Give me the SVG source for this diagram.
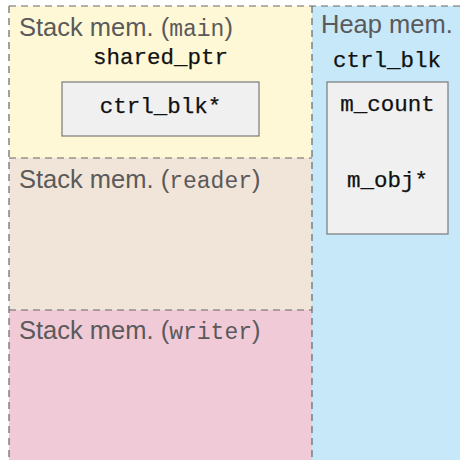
<svg xmlns="http://www.w3.org/2000/svg" width="460" height="460" viewBox="0 0 460 460">
<style>
.lbl{font-family:"Liberation Sans","Open Sans",sans-serif;font-size:25.5px;fill:#5a5a5a}
.lbl .tt{font-family:"Liberation Mono","DejaVu Sans Mono",monospace;font-size:23px}
.code{font-family:"Liberation Mono","DejaVu Sans Mono",monospace;font-size:22.5px;fill:#111;stroke:#111;stroke-width:0.25;text-anchor:middle}
.box{fill:#f0f0f0;stroke:#7a7a7a;stroke-width:1.2}
.dash{stroke:#666;stroke-width:1.2;stroke-dasharray:7 5;fill:none}
</style>
<g id="region-main">
<rect x="9" y="6" width="303" height="152" fill="#fef8d6"/>
<text class="lbl" x="19" y="36">Stack mem. (<tspan class="tt">main</tspan>)</text>
<text class="code" x="160.5" y="64">shared_ptr</text>
</g>
<g id="region-reader">
<rect x="9" y="158" width="303" height="152" fill="#f1e4d8"/>
<text class="lbl" x="19" y="188">Stack mem. (<tspan class="tt">reader</tspan>)</text>
</g>
<g id="region-writer">
<rect x="9" y="310" width="303" height="150" fill="#f1cad8"/>
<text class="lbl" x="19" y="339">Stack mem. (<tspan class="tt">writer</tspan>)</text>
</g>
<g id="region-heap">
<rect x="312" y="6" width="148" height="454" fill="#c6e8f9"/>
<text class="lbl" x="321" y="33">Heap mem.</text>
<text class="code" x="387" y="67">ctrl_blk</text>
</g>
<g id="node-shared-ptr">
<rect class="box" x="62" y="82" width="197" height="54"/>
<text class="code" x="160.5" y="113">ctrl_blk*</text>
</g>
<g id="node-ctrl-blk">
<rect class="box" x="327" y="82" width="121" height="152"/>
<text class="code" x="387.5" y="111">m_count</text>
<text class="code" x="387.5" y="187">m_obj*</text>
</g>
<g id="borders">
<line class="dash" x1="9" y1="6" x2="460" y2="6"/>
<line class="dash" x1="9" y1="6" x2="9" y2="460"/>
<line class="dash" x1="312" y1="6" x2="312" y2="460"/>
<line class="dash" x1="9" y1="158" x2="312" y2="158"/>
<line class="dash" x1="9" y1="310" x2="312" y2="310"/>
</g>
</svg>
